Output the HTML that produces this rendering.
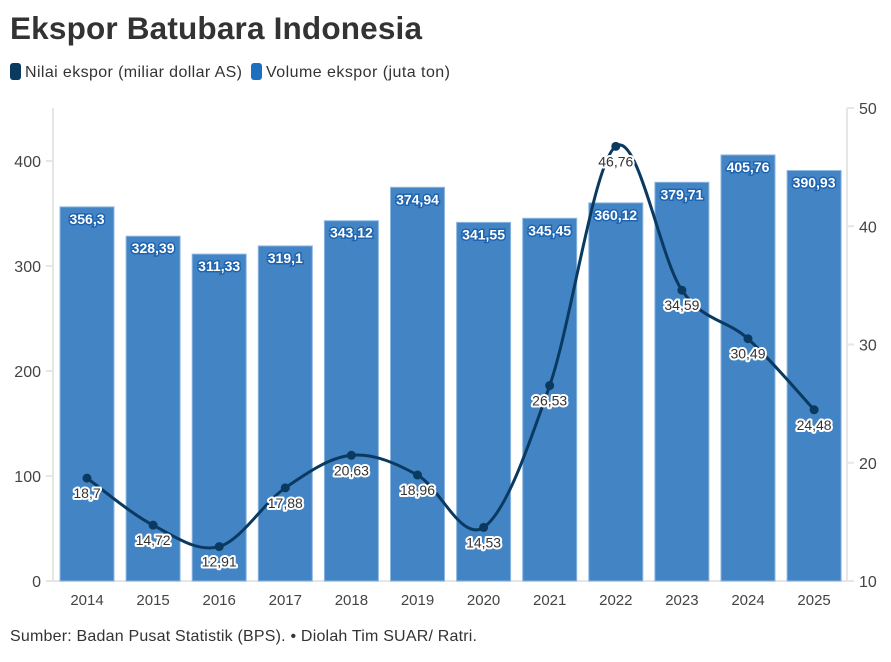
<!DOCTYPE html>
<html><head><meta charset="utf-8"><style>
body{margin:0;background:#fff;width:891px;height:657px;overflow:hidden;font-family:"Liberation Sans",sans-serif}
</style></head><body>
<svg width="891" height="657" xmlns="http://www.w3.org/2000/svg" font-family="Liberation Sans, sans-serif">
<text x="10" y="39" font-size="31.5" font-weight="bold" fill="#333" textLength="412">Ekspor Batubara Indonesia</text>
<g>
<rect x="10" y="63" width="11" height="17" rx="3" fill="#0b3a61"/>
<text x="25" y="77" font-size="16" fill="#333" textLength="217">Nilai ekspor (miliar dollar AS)</text>
<rect x="251" y="63" width="11" height="17" rx="3" fill="#1e6fc0"/>
<text x="266" y="77" font-size="16" fill="#333" textLength="184">Volume ekspor (juta ton)</text>
</g>
<g id="axes"></g>
<g id="bars"></g>
<g id="line"></g>
<text x="10" y="641" font-size="16" fill="#333" textLength="467">Sumber: Badan Pusat Statistik (BPS). • Diolah Tim SUAR/ Ratri.</text>
</svg>
<script>
const years=["2014","2015","2016","2017","2018","2019","2020","2021","2022","2023","2024","2025"];
const volume=[356.3,328.39,311.33,319.1,343.12,374.94,341.55,345.45,360.12,379.71,405.76,390.93];
const nilai=[18.7,14.72,12.91,17.88,20.63,18.96,14.53,26.53,46.76,34.59,30.49,24.48];
const leftTicks=[0,100,200,300,400];
const rightTicks=[10,20,30,40,50];
const NS="http://www.w3.org/2000/svg";
const yL=v=>581-v*1.05;
const yR=v=>581-(v-10)*11.825;
const xC=i=>87+i*66.1;
function mk(t,a,p){const e=document.createElementNS(NS,t);for(const k in a)e.setAttribute(k,a[k]);p.appendChild(e);return e;}
const ax=document.getElementById('axes'),bg=document.getElementById('bars'),lg=document.getElementById('line');
let e;
e=mk('line',{x1:53,y1:108,x2:53,y2:581,stroke:'#e6e6e6','stroke-width':2},ax);

e=mk('line',{x1:847,y1:108,x2:847,y2:581,stroke:'#e6e6e6','stroke-width':2},ax);

e=mk('line',{x1:53,y1:581,x2:847,y2:581,stroke:'#e6e6e6','stroke-width':2},ax);

leftTicks.forEach(v=>{
 mk('line',{x1:46,y1:yL(v),x2:53,y2:yL(v),stroke:'#e6e6e6','stroke-width':2},ax);
 e=mk('text',{x:41,y:yL(v)+6,'text-anchor':'end','font-size':16,fill:'#444'},ax);e.textContent=v;
 
});
rightTicks.forEach(v=>{
 mk('line',{x1:847,y1:yR(v),x2:854,y2:yR(v),stroke:'#e6e6e6','stroke-width':2},ax);
 e=mk('text',{x:859,y:yR(v)+6,'font-size':16,fill:'#444'},ax);e.textContent=v;
 
});
years.forEach((y,i)=>{
 e=mk('text',{x:xC(i),y:605,'text-anchor':'middle','font-size':15,fill:'#444'},ax);e.textContent=y;
 
});
volume.forEach((v,i)=>{
 e=mk('rect',{x:xC(i)-27,y:yL(v),width:54,height:581-yL(v),fill:'#4384c5',stroke:'#8db6e0','stroke-width':1},bg);
 
 e=mk('text',{x:xC(i),y:yL(v)+17,'text-anchor':'middle','font-size':14,'font-weight':'bold',fill:'#fff',stroke:'#1e64b0','stroke-width':3,'paint-order':'stroke'},bg);
 e.textContent=String(v).replace('.',',');
 
});
const pts=nilai.map((v,i)=>[xC(i),yR(v)]);
let d='M'+pts[0][0]+','+pts[0][1];
for(let i=0;i<pts.length-1;i++){
 const p0=pts[Math.max(0,i-1)],p1=pts[i],p2=pts[i+1],p3=pts[Math.min(pts.length-1,i+2)];
 const t=6;
 d+=' C'+(p1[0]+(p2[0]-p0[0])/t)+','+(p1[1]+(p2[1]-p0[1])/t)+' '+(p2[0]-(p3[0]-p1[0])/t)+','+(p2[1]-(p3[1]-p1[1])/t)+' '+p2[0]+','+p2[1];
}
e=mk('path',{d:d,fill:'none',stroke:'#0b3a61','stroke-width':3},lg);

nilai.forEach((v,i)=>{
 e=mk('circle',{cx:xC(i),cy:yR(v),r:4.5,fill:'#0b3a61'},lg);
 
 e=mk('text',{x:xC(i),y:yR(v)+20,'text-anchor':'middle','font-size':14,fill:'#333',stroke:'#fff','stroke-width':4,'stroke-linejoin':'round','paint-order':'stroke'},lg);
 e.textContent=String(v).replace('.',',');
 
});
</script>
</body></html>
